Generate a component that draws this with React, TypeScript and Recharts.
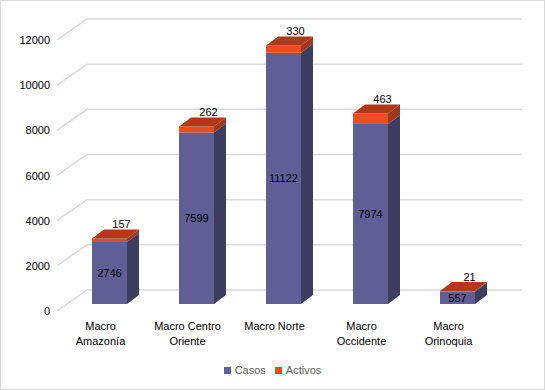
import { Bar, BarChart, CartesianGrid, LabelList, Legend, XAxis, YAxis } from "recharts";

const categories = ["Macro Amazonía", "Macro Centro Oriente", "Macro Norte", "Macro Occidente", "Macro Orinoquia"];
const casos = [2746, 7599, 11122, 7974, 557];
const activos = [157, 262, 330, 463, 21];
const yTicks = [0, 2000, 4000, 6000, 8000, 10000, 12000];

const data = categories.map((name, i) => ({ name, casos: casos[i], activos: activos[i] }));

const W = 545;
const H = 390;
const FONT = "'Liberation Sans', Arial, sans-serif";
// bar depth
const DX = 12;
const DY = -9;
// floor: front edge and back wall offsets from the bar plane
const FRONT = { x: -9, y: 7 };
const BACK = { x: 21, y: -14 };

const C = {
  casos: "#5f5f96",
  casosSide: "#3d3d5f",
  activos: "#e94e1c",
  activosSide: "#a0361a",
  activosTop: "#b0391a",
  grid: "#d9d9d9",
};

function wrap(label: string, max = 12) {
  const lines: string[] = [];
  let cur = "";
  for (const w of label.split(" ")) {
    const next = cur ? cur + " " + w : w;
    if (next.length > max && cur) {
      lines.push(cur);
      cur = w;
    } else cur = next;
  }
  if (cur) lines.push(cur);
  return lines;
}

function Box(props: any, front: string, side: string, top?: string) {
  const { x, y, width: w, height: h } = props;
  if (w == null || h == null) return <g />;
  return (
    <g>
      <rect x={x} y={y} width={w} height={Math.max(h, 0)} fill={front} />
      <polygon points={`${x + w},${y} ${x + w + DX},${y + DY} ${x + w + DX},${y + h + DY} ${x + w},${y + h}`} fill={side} />
      {top && <polygon points={`${x},${y} ${x + DX},${y + DY} ${x + w + DX},${y + DY} ${x + w},${y}`} fill={top} />}
    </g>
  );
}

function GridLine(p: any) {
  const { x1, x2, y1 } = p;
  return (
    <polyline
      key={p.key}
      points={`${x1 + FRONT.x},${y1 + FRONT.y} ${x1 + BACK.x},${y1 + BACK.y} ${x2 + BACK.x},${y1 + BACK.y}`}
      fill="none"
      stroke={C.grid}
      strokeWidth={1.5}
    />
  );
}

function YTick(p: any) {
  return (
    <text x={p.x - 8} y={p.y + FRONT.y} textAnchor="end" dominantBaseline="central" fontSize={11} fontFamily={FONT} fill="#000">
      {p.payload.value}
    </text>
  );
}

function XTick(p: any) {
  const lines = wrap(p.payload.value);
  return (
    <text x={p.x + FRONT.x} y={p.y + 18} textAnchor="middle" fontSize={11} fontFamily={FONT} fill="#000">
      {lines.map((l, i) => (
        <tspan key={i} x={p.x + FRONT.x} dy={i === 0 ? 0 : 15}>
          {l}
        </tspan>
      ))}
    </text>
  );
}

function TopLabel(p: any) {
  const { x, y, width, value } = p;
  return (
    <text x={x + width / 2 + 12} y={y - 14} textAnchor="middle" dominantBaseline="central" fontSize={11} fontFamily={FONT} fill="#000">
      {value}
    </text>
  );
}

function LegendContent() {
  const items = [
    { label: "Casos", color: C.casos },
    { label: "Activos", color: C.activos },
  ];
  return (
    <div style={{ display: "flex", justifyContent: "center", alignItems: "center", gap: 9, fontSize: 11, fontFamily: FONT, color: "#595959", height: 20 }}>
      {items.map((it) => (
        <span key={it.label} style={{ display: "flex", alignItems: "center" }}>
          <span style={{ width: 7, height: 7, background: it.color, marginRight: 4, display: "inline-block" }} />
          {it.label}
        </span>
      ))}
    </div>
  );
}

export default function App() {
  return (
    <div style={{ position: "absolute", left: 0, top: 0, width: W, height: H, boxShadow: "inset 0 0 0 1px #d9d9d9", background: "#fff" }}>
      <BarChart width={W} height={H} data={data} margin={{ top: 33, right: 44, left: 0, bottom: 10 }} barSize={35}>
        <CartesianGrid vertical={false} horizontal={(p: any) => <GridLine {...p} />} />
        <XAxis dataKey="name" axisLine={false} tickLine={false} height={56} interval={0} tick={<XTick />} />
        <YAxis width={66} domain={[0, 12000]} ticks={yTicks} axisLine={false} tickLine={false} tick={<YTick />} />
        <Legend verticalAlign="bottom" height={20} width={W} wrapperStyle={{ left: 0 }} content={<LegendContent />} />
        <Bar dataKey="casos" name="Casos" stackId="a" fill={C.casos} isAnimationActive={false} shape={(p: any) => Box(p, C.casos, C.casosSide)}>
          <LabelList dataKey="casos" position="center" fontSize={11} fontFamily={FONT} fill="#000" />
        </Bar>
        <Bar dataKey="activos" name="Activos" stackId="a" fill={C.activos} isAnimationActive={false} shape={(p: any) => Box(p, C.activos, C.activosSide, C.activosTop)}>
          <LabelList dataKey="activos" content={<TopLabel />} />
        </Bar>
      </BarChart>
    </div>
  );
}
